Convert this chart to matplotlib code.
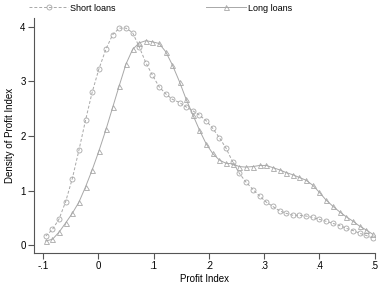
import matplotlib
matplotlib.use("Agg")
import matplotlib.pyplot as plt

plt.rcParams['font.family'] = ['Liberation Sans', 'DejaVu Sans']

# evaluation grid of the kernel density (50 points)
profit = [-0.095, -0.083, -0.071, -0.059, -0.047, -0.035, -0.023, -0.011, 0.001, 0.014,
          0.026, 0.038, 0.050, 0.062, 0.074, 0.086, 0.098, 0.110, 0.122, 0.134,
          0.147, 0.159, 0.171, 0.183, 0.195, 0.207, 0.219, 0.231, 0.243, 0.255,
          0.267, 0.280, 0.292, 0.304, 0.316, 0.328, 0.340, 0.352, 0.364, 0.376,
          0.388, 0.400, 0.412, 0.425, 0.437, 0.449, 0.461, 0.473, 0.485, 0.497]

short_loans = [0.17, 0.29, 0.48, 0.80, 1.22, 1.74, 2.29, 2.80, 3.22, 3.59,
               3.85, 3.97, 3.97, 3.89, 3.63, 3.34, 3.11, 2.90, 2.77, 2.67,
               2.61, 2.53, 2.46, 2.38, 2.28, 2.14, 1.97, 1.78, 1.53, 1.32,
               1.16, 1.02, 0.90, 0.79, 0.71, 0.63, 0.585, 0.55, 0.55, 0.535,
               0.51, 0.475, 0.44, 0.40, 0.36, 0.31, 0.27, 0.22, 0.18, 0.13]

long_loans = [0.08, 0.11, 0.24, 0.41, 0.585, 0.79, 1.07, 1.38, 1.72, 2.12,
              2.52, 2.92, 3.31, 3.58, 3.70, 3.74, 3.72, 3.69, 3.54, 3.30,
              2.99, 2.67, 2.39, 2.11, 1.86, 1.68, 1.56, 1.50, 1.49, 1.44,
              1.43, 1.44, 1.46, 1.46, 1.42, 1.38, 1.33, 1.29, 1.24, 1.19,
              1.10, 0.97, 0.83, 0.71, 0.61, 0.52, 0.44, 0.35, 0.28, 0.20]

xticks = [-0.1, 0, 0.1, 0.2, 0.3, 0.4, 0.5]
xticklabels = ['-.1', '0', '.1', '.2', '.3', '.4', '.5']
yticks = [0, 1, 2, 3, 4]

grey = '#a8a8a8'

fig = plt.figure(figsize=(3.83, 2.86), dpi=100)
ax = fig.add_axes([0.0888, 0.1164, 0.978 - 0.0888, 0.936 - 0.1164])

ax.plot(profit, short_loans, color=grey, lw=0.7, dashes=(3, 2),
        marker='o', ms=3.6, mfc='none', mec=grey, mew=0.6, label='Short loans')
ax.plot(profit, long_loans, color=grey, lw=0.7,
        marker='^', ms=3.6, mfc='none', mec=grey, mew=0.6, label='Long loans')

ax.set_xlim(-0.1163, 0.5)
ax.set_ylim(-0.135, 4.15)
ax.set_xticks(xticks)
ax.set_xticklabels(xticklabels)
ax.set_yticks(yticks)

for s in ['top', 'right']:
    ax.spines[s].set_visible(False)
for s in ['left', 'bottom']:
    ax.spines[s].set_color('#555555')
    ax.spines[s].set_linewidth(0.8)
ax.tick_params(direction='out', length=4, width=0.8, color='#555555',
               labelsize=7, pad=2)

ax.set_xlabel('Profit Index', fontsize=7, labelpad=2)
ax.set_ylabel('Density of Profit Index', fontsize=7, labelpad=4)

fig.legend(loc='center left', bbox_to_anchor=(0.075, 0.972), ncol=2, frameon=False,
           fontsize=6.5, handlelength=4.4, handletextpad=0.2, columnspacing=10.0,
           borderpad=0, borderaxespad=0)

fig.savefig('out.png', dpi=100)
